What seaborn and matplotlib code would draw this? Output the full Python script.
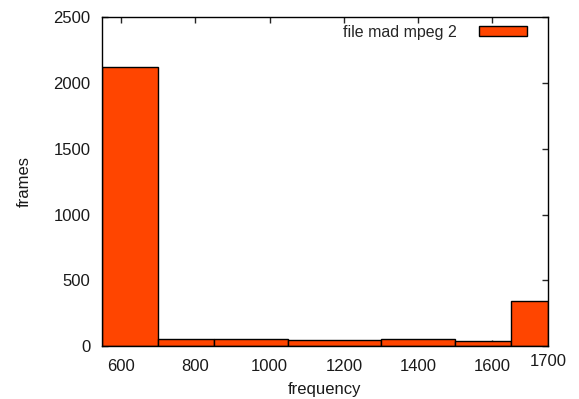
import matplotlib
matplotlib.use('Agg')
import matplotlib.pyplot as plt
import seaborn as sns

# frequency bins (MHz) and frame counts per bin
bin_edges = [548, 700, 850, 1050, 1300, 1500, 1650, 1750]
bin_centers = [624, 775, 950, 1175, 1400, 1575, 1700]
frames = [2125, 55, 52, 48, 50, 40, 345]
x_ticks = [600, 800, 1000, 1200, 1400, 1600]
series_label = 'file mad mpeg 2'

sns.set_style('ticks')
plt.rcParams['font.family'] = ['Liberation Sans', 'DejaVu Sans']
plt.rcParams['font.size'] = 12

fig = plt.figure(figsize=(5.79, 3.99), dpi=100)
ax = fig.add_axes([0.1757, 0.1328, 0.7708, 0.8238])

sns.histplot(x=bin_centers, weights=frames, bins=bin_edges, ax=ax,
             color='#ff4500', edgecolor='black', linewidth=1.0, alpha=1.0,
             label=series_label)

ax.set_xlim(bin_edges[0], bin_edges[-1])
ax.set_ylim(0, 2500)
ax.set_xticks(x_ticks)
ax.set_yticks([0, 500, 1000, 1500, 2000, 2500])
ax.text(1.0, -0.025, '1700', transform=ax.transAxes, ha='center', va='top',
        fontsize=12, color='#1a1a1a')

ax.tick_params(direction='in', length=4, width=1, top=True, right=True,
               labelcolor='#1a1a1a', labelsize=12)
ax.tick_params(axis='x', pad=9)
ax.tick_params(axis='y', pad=8)
for s in ax.spines.values():
    s.set_linewidth(1.0)
    s.set_color('black')

ax.set_xlabel('frequency', fontsize=12, color='#1a1a1a', labelpad=6)
ax.set_ylabel('frames', fontsize=12, color='#1a1a1a', labelpad=16)

ax.legend(loc='upper right', bbox_to_anchor=(0.953, 0.978), frameon=False,
          markerfirst=False, handlelength=3.0, handleheight=0.55,
          fontsize=11.5, borderaxespad=0, borderpad=0, handletextpad=1.4)

fig.savefig('out.png', dpi=100)
